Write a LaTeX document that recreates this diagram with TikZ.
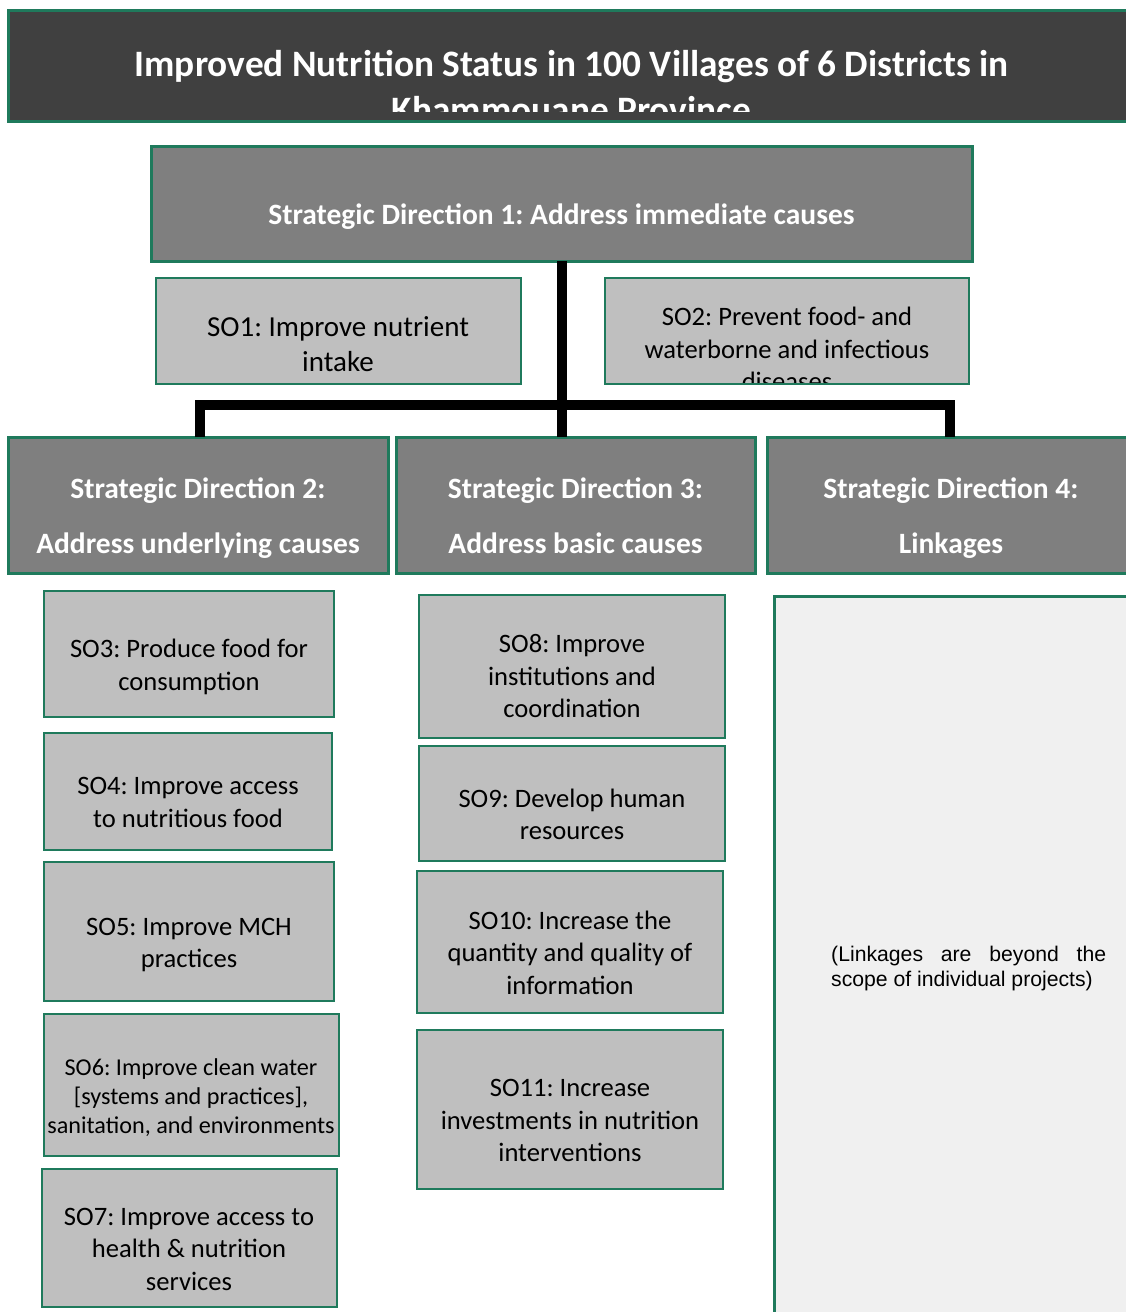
\documentclass[tikz,border=0pt]{standalone}
\usepackage{fontspec}
\setmainfont{Carlito}
\newfontfamily\arialfont{Liberation Sans}
\usetikzlibrary{fit}
\definecolor{edgegreen}{HTML}{1F7A5C}
\definecolor{titlegray}{HTML}{404040}
\definecolor{sdgray}{HTML}{7F7F7F}
\definecolor{sogray}{HTML}{BFBFBF}
\definecolor{panelgray}{HTML}{F0F0F0}
\frenchspacing

\begin{document}
\begin{tikzpicture}[x=1pt,y=-1pt,
  frame/.style={draw=edgegreen, line width=2.5pt, inner sep=0pt, outer sep=0pt},
  titlebox/.style={frame, fill=titlegray, line width=3pt},
  sdbox/.style={frame, fill=sdgray, line width=3pt},
  sobox/.style={frame, fill=sogray},
  panel/.style={frame, fill=panelgray, line width=3pt},
  titletext/.style={text=white, align=center, inner sep=0pt, font=\bfseries\fontsize{37.3}{46}\selectfont},
  sdtext/.style={text=white, align=center, inner sep=0pt, font=\bfseries\fontsize{29.5}{55}\selectfont},
  sotext/.style={align=center, inner sep=0pt, font=\fontsize{26.6}{32.5}\selectfont},
  sobig/.style={align=center, inner sep=0pt, font=\fontsize{29}{35}\selectfont},
  sosmall/.style={align=center, inner sep=0pt, font=\fontsize{24.2}{29}\selectfont},
  notetext/.style={align=left, inner sep=0pt, font=\arialfont\fontsize{21.2}{25}\selectfont},
  bus/.style={line width=10pt, black}
]
\path[use as bounding box] (0,0) rectangle (1126,1312);
\clip (0,0) rectangle (1126,1312);

% goal banner (text runs past the bottom edge and is cut off)
\node[titlebox, fit={(8,10) (1140,121)}] (goal) {};
\begin{scope}
  \clip (10,12) rectangle (1126,111);
  \node[titletext] (goal-label) at (571.5,87)
    {Improved Nutrition Status in 100 Villages of 6 Districts in\\Khammouane Province};
\end{scope}

% strategic direction 1 and its objectives
\node[sdbox, fit={(151,146) (972,261)}] (sd1) {};
\node[sdtext] (sd1-label) at (561.5,217) {Strategic Direction 1: Address immediate causes};

\node[sobox, fit={(156,278) (521,384)}] (so1) {};
\node[sobig] (so1-label) at (338,344.5) {SO1: Improve nutrient\\intake};

\node[sobox, fit={(605,278) (969,384)}] (so2) {};
\begin{scope}
  \clip (606.5,279.5) rectangle (967.5,382);
  \node[sotext] (so2-label) at (787,349) {SO2: Prevent food- and\\waterborne and infectious\\diseases};
\end{scope}

% strategic directions 2-4
\node[sdbox, fit={(8,437) (388,573)}] (sd2) {};
\node[sdtext] (sd2-label) at (198,518.5) {Strategic Direction 2:\\Address underlying causes};
\node[sdbox, fit={(396,437) (755,573)}] (sd3) {};
\node[sdtext] (sd3-label) at (575.5,515.5) {Strategic Direction 3:\\Address basic causes};
\node[sdbox, fit={(767,437) (1140,573)}] (sd4) {};
\node[sdtext] (sd4-label) at (951,518.5) {Strategic Direction 4:\\Linkages};

% connectors
\coordinate (busL) at (200,405);
\coordinate (busR) at (950,405);
\draw[bus] (sd1.south) -- (sd1.south |- sd3.north);
\draw[bus, line join=miter] (busL |- sd2.north) -- (busL) -- (busR) -- (busR |- sd4.north);

% underlying causes column
\node[sobox, fit={(44,591) (334,717)}] (so3) {};
\node[sotext] (so3-label) at (189,667) {SO3: Produce food for\\consumption};
\node[sobox, fit={(44,733) (332,850)}] (so4) {};
\node[sotext] (so4-label) at (188,802.5) {SO4: Improve access\\to nutritious food};
\node[sobox, fit={(44,862) (334,1001)}] (so5) {};
\node[sotext] (so5-label) at (189,945) {SO5: Improve MCH\\practices};
\node[sobox, fit={(44,1014) (339,1156)}] (so6) {};
\node[sosmall] (so6-label) at (191,1098) {SO6: Improve clean water\\{[systems and practices]},\\sanitation, and environments};
\node[sobox, fit={(42,1169) (337,1307)}] (so7) {};
\node[sotext] (so7-label) at (189,1249) {SO7: Improve access to\\health \& nutrition\\services};

% basic causes column
\node[sobox, fit={(419,595) (725,738)}] (so8) {};
\node[sotext] (so8-label) at (572,676.5) {SO8: Improve\\institutions and\\coordination};
\node[sobox, fit={(419,746) (725,861)}] (so9) {};
\node[sotext] (so9-label) at (572,814.5) {SO9: Develop human\\resources};
\node[sobox, fit={(417,871) (723,1013)}] (so10) {};
\node[sotext] (so10-label) at (570,952.5) {SO10: Increase the\\quantity and quality of\\information};
\node[sobox, fit={(417,1030) (723,1189)}] (so11) {};
\node[sotext] (so11-label) at (570,1120.5) {SO11: Increase\\investments in nutrition\\interventions};

% linkages panel
\node[panel, fit={(774,596) (1140,1330)}] (links) {};
\node[notetext, anchor=west] (links-label) at (831,969)
  {\hbox to 275pt{(Linkages\hfill are\hfill beyond\hfill the}\\scope of individual projects)};
\end{tikzpicture}
\end{document}
